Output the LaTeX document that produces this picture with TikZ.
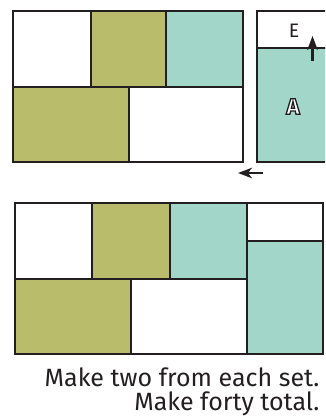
\documentclass[tikz,border=0pt]{standalone}
\usepackage{fontspec}
\setmainfont{Fira Sans}
\usepackage{xcolor}
\usetikzlibrary{arrows.meta,positioning}
\definecolor{quiltink}{HTML}{231F20}
\definecolor{quiltolive}{HTML}{B9BD6B}
\definecolor{quiltteal}{HTML}{A1D6C8}
% white letter with a dark outline
\newcommand{\ringletter}[1]{%
  \special{pdf:literal direct q 2 Tr 1.3 w 1 g 0.137 0.122 0.125 RG}#1\special{pdf:literal direct Q}}

\begin{document}
\begin{tikzpicture}[x=1pt, y=-1pt,
    patch/.style={draw=quiltink, line width=2.2pt, line join=miter},
    plain/.style={patch, fill=white},
    olive/.style={patch, fill=quiltolive},
    teal/.style={patch, fill=quiltteal},
    move/.style={-{Stealth[length=14pt, width=10.5pt, inset=4pt]}, line width=2.2pt, quiltink}]
        \useasboundingbox (0,0) rectangle (325,418);
        \begin{scope}
        \clip (0,0) rectangle (325,418);
        % first set, before sewing
        \draw[plain] (12.7,11) rectangle (90.7,86.7);
        \draw[olive] (90.7,11) rectangle (166,86.7);
        \draw[teal]  (166,11) rectangle (242.7,86.7);
        \draw[olive] (12.7,86.7) rectangle (128.7,162);
        \draw[plain] (128.7,86.7) rectangle (242.7,162);
        \draw[plain] (257.3,11) rectangle (333,47.7);
        \draw[teal]  (257.3,47.7) rectangle (333,162);
        \node[font=\fontsize{19.5}{21}\selectfont, text=quiltink] (labE) at (294,30.5) {E};
        \node[font=\fontsize{22.5}{24}\selectfont\bfseries] (labA) at (293,106.5) {\ringletter{A}};
        % sewn block
        \draw[plain] (15,203.3) rectangle (92.3,279);
        \draw[olive] (92.3,203.3) rectangle (170,279);
        \draw[teal]  (170,203.3) rectangle (246.7,279);
        \draw[plain] (246.7,203.3) rectangle (322.7,241);
        \draw[teal]  (246.7,241) rectangle (322.7,354.3);
        \draw[olive] (15,279) rectangle (131,354.3);
        \draw[plain] (131,279) rectangle (246.7,354.3);
        \end{scope}
        % arrows
        \coordinate (upfrom) at (312.5,61);
        \coordinate (upto) at (312.5,36);
        \coordinate (leftfrom) at (262.5,173);
        \coordinate (leftto) at (238,173);
        \draw[move] (upfrom) -- (upto);
        \draw[move] (leftfrom) -- (leftto);
        % note
        \node[anchor=north east, align=right, inner sep=0pt, text=quiltink,
              font=\fontsize{25}{24}\selectfont] (note) at (319.5,367.5)
              {Make two from each set.\\Make forty total.};
      \end{tikzpicture}
\end{document}
